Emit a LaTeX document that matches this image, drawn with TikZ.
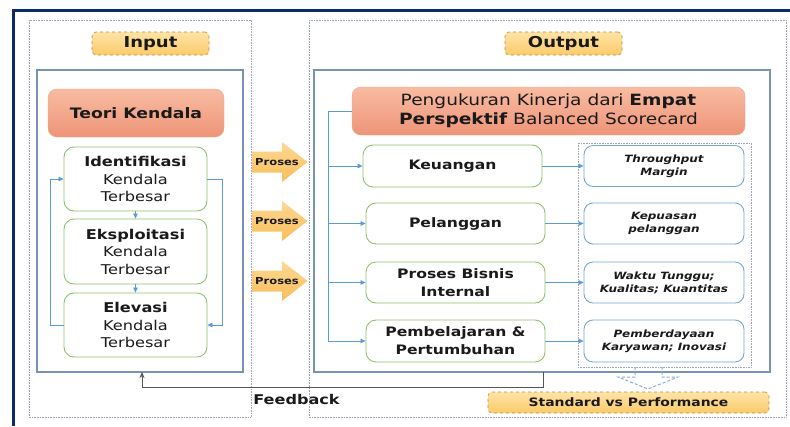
\documentclass[tikz,border=0pt]{standalone}
\usepackage{fontspec}
\setmainfont{DejaVu Sans}[FakeStretch=1.2]
\usetikzlibrary{arrows.meta,calc}
\definecolor{navy}{HTML}{0B2A6B}
\definecolor{dotgray}{HTML}{9AA5B8}
\definecolor{steel}{HTML}{7A93B5}
\definecolor{salmonT}{HTML}{F8BCA2}
\definecolor{salmonB}{HTML}{EE9478}
\definecolor{salmonD}{HTML}{F1A387}
\definecolor{grn}{HTML}{92C16E}
\definecolor{bluebox}{HTML}{7AA6D6}
\definecolor{conn}{HTML}{5B9BD5}
\definecolor{labT}{HTML}{FEE3A6}
\definecolor{labB}{HTML}{FBCB6A}
\definecolor{labD}{HTML}{B89040}
\definecolor{procT}{HTML}{FDD894}
\definecolor{procB}{HTML}{F9BE5A}
\definecolor{txt}{HTML}{1A1A1A}
\definecolor{fbc}{HTML}{555555}
\definecolor{dashc}{HTML}{8AA8D2}
\tikzset{
  outerbox/.style={draw=dotgray, densely dotted, line width=0.6pt},
  innerbox/.style={draw=steel, line width=1.1pt},
  labelbox/.style={draw=labD, dashed, line width=0.6pt, rounded corners=4pt,
    top color=labT, bottom color=labB, text=txt, inner sep=0pt},
  headbox/.style={draw=salmonD, rounded corners=9pt, top color=salmonT, bottom color=salmonB,
    text=txt, inner sep=0pt, align=center},
  greenbox/.style={draw=grn, line width=0.9pt, rounded corners=10pt, fill=white,
    text=txt, inner sep=0pt, align=center},
  metricbox/.style={draw=bluebox, line width=0.9pt, rounded corners=9pt, fill=white,
    text=txt, inner sep=0pt, align=center,
    font=\fontsize{10}{13}\selectfont\bfseries\itshape},
  connline/.style={draw=conn, line width=0.6pt},
  conarrow/.style={connline, -{Triangle[length=5pt,width=4.5pt]}},
  proctext/.style={text=txt, font=\fontsize{9.6}{11}\selectfont\bfseries, inner sep=0pt},
  fbline/.style={draw=fbc, line width=1pt, -{Stealth[length=6pt,width=5pt]}},
  dashblock/.style={draw=dashc, dash pattern=on 3pt off 2pt, line width=1pt}
}
\begin{document}
\begin{tikzpicture}[x=1pt,y=-1pt]
\useasboundingbox (0,0) rectangle (790,426);
\fill[white] (0,0) rectangle (790,426);
% navy frame
\draw[navy, line width=3pt] (13.5,426) -- (13.5,10) -- (790,10);
% outer dotted boxes
\draw[outerbox] (29,20) rectangle (251,417);
\draw[outerbox] (309,20) rectangle (786,417);
% inner boxes
\draw[innerbox] (37,70) rectangle (243,372);
\draw[innerbox] (314,70) rectangle (770,372);
% labels
\node[labelbox, minimum width=117pt, minimum height=23pt, font=\fontsize{15}{18}\selectfont\bfseries] (inlab) at (150.5,43.5) {Input};
\node[labelbox, minimum width=117pt, minimum height=23pt, font=\fontsize{15}{18}\selectfont\bfseries] (outlab) at (563.5,43.5) {Output};
\node[labelbox, minimum width=281pt, minimum height=21pt, font=\fontsize{11.6}{14}\selectfont\bfseries] (std) at (628.5,402.5) {Standard vs Performance};
% left side
\node[headbox, minimum width=176pt, minimum height=48pt, font=\fontsize{14.4}{17}\selectfont\bfseries] (toc) at (136,113) {Teori Kendala};
\node[greenbox, minimum width=143pt, minimum height=64pt, font=\fontsize{13.5}{17.5}\selectfont] (iden) at (135.5,179) {\textbf{Identifikasi}\\Kendala\\Terbesar};
\node[greenbox, minimum width=143pt, minimum height=65pt, font=\fontsize{13.5}{17.5}\selectfont] (eks) at (135.5,251.5) {\textbf{Eksploitasi}\\Kendala\\Terbesar};
\node[greenbox, minimum width=143pt, minimum height=64pt, font=\fontsize{13.5}{17.5}\selectfont] (elev) at (135.5,325) {\textbf{Elevasi}\\Kendala\\Terbesar};
\draw[conarrow] (iden.south) -- (eks.north);
\draw[conarrow] (eks.south) -- (elev.north);
\draw[conarrow] (elev.west) -- ++(-13,0) |- (iden.west);
\draw[conarrow] (iden.east) -- ++(15,0) |- (elev.east);
% proses arrows
\foreach \cy/\nm in {162/p1,221/p2,281/p3}{
  \shade[top color=procT, bottom color=procB]
    (252,\cy-10.5) -- (282,\cy-10.5) -- (282,\cy-20) -- (307.5,\cy) -- (282,\cy+20) -- (282,\cy+10.5) -- (252,\cy+10.5) -- cycle;
  \node[proctext] (\nm) at (277,\cy) {Proses};
}
% right side
\node[headbox, minimum width=393pt, minimum height=48pt, font=\fontsize{15.5}{19}\selectfont] (peng) at (548.5,111) {Pengukuran Kinerja dari \textbf{Empat}\\\textbf{Perspektif} Balanced Scorecard};
\node[greenbox, minimum width=179pt, minimum height=42pt, font=\fontsize{13}{18}\selectfont\bfseries] (keu) at (452.5,166) {Keuangan};
\node[greenbox, minimum width=179pt, minimum height=41pt, font=\fontsize{13}{18}\selectfont\bfseries] (pel) at (455.5,223.5) {Pelanggan};
\node[greenbox, minimum width=179pt, minimum height=41pt, font=\fontsize{13}{18}\selectfont\bfseries] (pbi) at (455.5,282.5) {Proses Bisnis\\Internal};
\node[greenbox, minimum width=179pt, minimum height=42pt, font=\fontsize{13}{18}\selectfont\bfseries] (pem) at (455.5,341) {Pembelajaran \&\\Pertumbuhan};
\draw[outerbox] (578,143) rectangle (751,367);
\node[metricbox, minimum width=160pt, minimum height=41pt] (m1) at (664,166) {Throughput\\Margin};
\node[metricbox, minimum width=160pt, minimum height=41pt] (m2) at (664,223.5) {Kepuasan\\pelanggan};
\node[metricbox, minimum width=160pt, minimum height=41pt] (m3) at (664,282.5) {Waktu Tunggu;\\Kualitas; Kuantitas};
\node[metricbox, minimum width=160pt, minimum height=42pt] (m4) at (664,341) {Pemberdayaan\\Karyawan; Inovasi};
% spine
\coordinate (spx) at (328,0);
\draw[connline] (peng.west) -| (pem.west -| spx);
\draw[conarrow] (keu.west -| spx) -- (keu.west);
\draw[conarrow] (pel.west -| spx) -- (pel.west);
\draw[conarrow] (pbi.west -| spx) -- (pbi.west);
\draw[conarrow] (pem.west -| spx) -- (pem.west);
\draw[conarrow] (keu.east) -- (m1.west);
\draw[conarrow] (pel.east) -- (m2.west);
\draw[conarrow] (pbi.east) -- (m3.west);
\draw[conarrow] (pem.east) -- (m4.west);
% dashed block arrow
\draw[dashblock] (635,367) -- (635,377) -- (618,377) -- (648,389) -- (678,377) -- (662,377) -- (662,367);
% feedback
\coordinate (fbA) at (543,372);
\coordinate (fbB) at (142,372);
\draw[fbline] (fbA) -- ++(0,15) -| (fbB);
\node[text=txt, font=\fontsize{13.4}{16}\selectfont\bfseries, inner sep=0pt] (fb) at (296.5,399.5) {Feedback};
\end{tikzpicture}
\end{document}
